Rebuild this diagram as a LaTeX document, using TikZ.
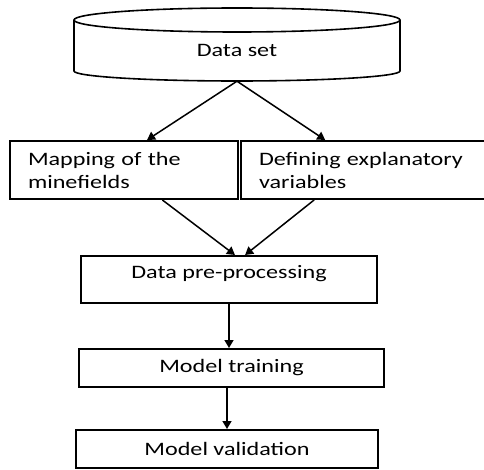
\documentclass[tikz,border=0pt]{standalone}
\usepackage{fontspec}
\setmainfont[FakeStretch=1.27]{Carlito}
\usetikzlibrary{arrows.meta,calc}
\tikzset{
  box/.style={draw, line width=2pt, inner sep=0pt},
  arr/.style={line width=1.5pt, -{Triangle[length=8pt,width=9pt]}},
  cyl/.style={line width=1.6pt},
  txt/.style={font=\fontsize{19}{23}\selectfont, inner sep=0pt}
}
\begin{document}
\begin{tikzpicture}[x=1pt,y=-1pt]
\useasboundingbox (0,0) rectangle (484,470);
% cylinder
\draw[cyl] (237,20) ellipse [x radius=163pt, y radius=12pt];
\draw[cyl] (74,20) -- (74,71) arc[start angle=180, end angle=360, x radius=163pt, y radius=10pt] -- (400,20);
\node[minimum width=326pt, minimum height=73pt, inner sep=0pt] (ds) at (237,44.5) {};
\node[txt] (dst) at (237,50.5) {Data set};
% boxes
\node[box, txt, minimum width=228pt, minimum height=58pt, text width=192pt, inner xsep=18pt, align=left] (m1) at (124,170) {Mapping of the\\minefields};
\node[box, txt, minimum width=245pt, minimum height=58pt, text width=209pt, inner xsep=18pt, align=left] (m2) at (363.5,170) {Defining explanatory\\variables};
\node[box, minimum width=296pt, minimum height=47pt] (pp) at (229,279.5) {};
\node[txt] (ppt) at (229,273.5) {Data pre-processing};
\node[box, txt, minimum width=305pt, minimum height=38pt] (mt) at (231.5,368) {Model training};
\node[box, txt, minimum width=302pt, minimum height=38pt] (mv) at (227,449) {Model validation};
% arrows
\draw[arr] (ds.south) -- ($(m1.north west)!0.6!(m1.north east)$);
\draw[arr] (ds.south) -- ($(m2.north west)!0.345!(m2.north east)$);
\draw[arr] ($(m1.south west)!0.667!(m1.south east)$) -- ($(pp.north west)!0.52!(pp.north east)$);
\draw[arr] ($(m2.south west)!0.30!(m2.south east)$) -- ($(pp.north west)!0.554!(pp.north east)$);
\draw[arr] (pp.south) -- (pp.south |- mt.north);
\draw[arr] (mv.north |- mt.south) -- (mv.north);
\end{tikzpicture}
\end{document}
